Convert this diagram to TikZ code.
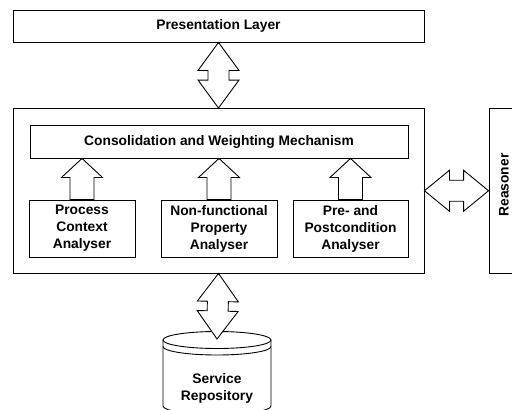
\documentclass[tikz,border=0pt]{standalone}
\usepackage{fontspec}
\setmainfont{Liberation Sans}
\usetikzlibrary{calc}

\tikzset{
    box/.style={draw, line width=0.9pt, fill=white, inner sep=0pt, align=center,
        font=\bfseries\fontsize{13.8}{17}\selectfont},
    lbl/.style={inner sep=0pt, align=center, font=\bfseries\fontsize{13.8}{17}\selectfont},
    blockarrow/.style={draw, line width=0.9pt, fill=white, line join=miter},
}

% double block arrow between two points, optional head length
\newcommand{\dblarrow}[3][28pt]{%
    \draw[blockarrow] (#2)
        -- ($(#2)!#1!(#3)!20.5pt!90:(#3)$)
        -- ($(#2)!#1!(#3)!10.5pt!90:(#3)$)
        -- ($(#3)!#1!(#2)!10.5pt!-90:(#2)$)
        -- ($(#3)!#1!(#2)!20.5pt!-90:(#2)$)
        -- (#3)
        -- ($(#3)!#1!(#2)!20.5pt!90:(#2)$)
        -- ($(#3)!#1!(#2)!10.5pt!90:(#2)$)
        -- ($(#2)!#1!(#3)!10.5pt!-90:(#3)$)
        -- ($(#2)!#1!(#3)!20.5pt!-90:(#3)$)
        -- cycle;
}
% single block arrow, tip at #2
\newcommand{\uparr}[2]{%
    \draw[blockarrow] ($(#1)!12pt!90:(#2)$)
        -- ($(#2)!19pt!(#1)!12pt!-90:(#1)$)
        -- ($(#2)!19pt!(#1)!20.5pt!-90:(#1)$)
        -- (#2)
        -- ($(#2)!19pt!(#1)!20.5pt!90:(#1)$)
        -- ($(#2)!19pt!(#1)!12pt!90:(#1)$)
        -- ($(#1)!12pt!-90:(#2)$)
        -- cycle;
}

\begin{document}
\begin{tikzpicture}[x=1pt, y=-1pt]
    \useasboundingbox (0,0) rectangle (512,410);

    \node[box, minimum width=411pt, minimum height=32pt] (pres) at (218.5,26) {Presentation Layer};
    \node[box, minimum width=411pt, minimum height=164.5pt] (main) at (218.5,190.75) {};
    \node[box, minimum width=378pt, minimum height=33pt] (cons) at (219,141.5) {Consolidation and Weighting Mechanism};

    \node[box, minimum width=106pt, minimum height=57pt] (proc) at (82,228.5) {Process\\Context\\Analyser};
    \node[box, minimum width=116pt, minimum height=57pt] (nfp) at (219,228.5) {Non-functional\\Property\\Analyser};
    \node[box, minimum width=115pt, minimum height=57pt] (pre) at (350.5,228.5) {Pre- and\\Postcondition\\Analyser};

    \foreach \n in {proc,nfp,pre} {
        \coordinate (\n-tip) at (\n.north |- cons.south);
        \uparr{\n.north}{\n-tip}
    }

    % reasoner, cut by the right edge
    \node[box, minimum width=30pt, minimum height=164.5pt] (reas) at (504,190.75) {};
    \node[lbl, rotate=90] (reaslbl) at (504,185) {Reasoner};

    % service repository
    \draw[line width=0.9pt, fill=white] (163,340) -- (163,406)
        arc[start angle=180, end angle=360, x radius=54pt, y radius=8.5pt] -- (271,340);
    \draw[line width=0.9pt, fill=white] (217,340) ellipse (54pt and 8.5pt);
    \draw[line width=0.9pt] (163,346.5) arc[start angle=180, end angle=360, x radius=54pt, y radius=8.5pt];
    \node[lbl] (repo) at (217,388.5) {Service\\Repository};
    \coordinate (repotop) at (217,339);

    \dblarrow{pres.south}{main.north}
    \dblarrow{main.south}{repotop}
    \coordinate (reasin) at (main.east -| reas.west);
    \dblarrow[25pt]{main.east}{reasin}
\end{tikzpicture}
\end{document}
